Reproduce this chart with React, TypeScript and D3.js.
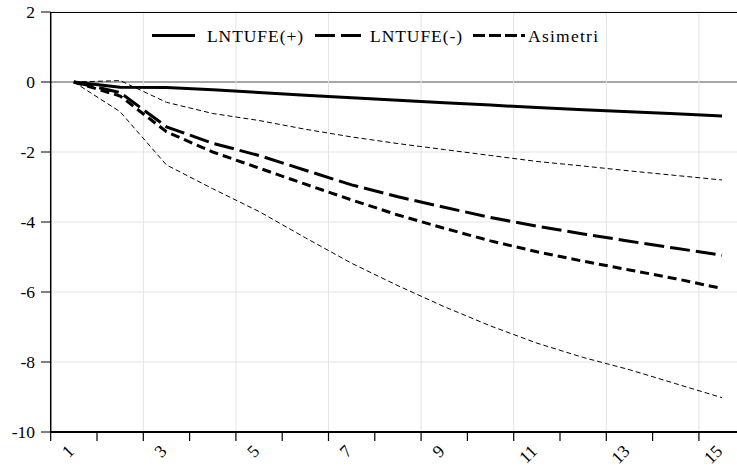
import React from "react";
import * as d3 from "d3";

const periods = [1, 2, 3, 4, 5, 6, 7, 8, 9, 10, 11, 12, 13, 14, 15];
const lnPlus = [0, -0.15, -0.16, -0.22, -0.3, -0.38, -0.45, -0.52, -0.59, -0.66, -0.73, -0.79, -0.85, -0.91, -0.97];
const lnMinus = [0, -0.3, -1.28, -1.75, -2.1, -2.52, -2.94, -3.28, -3.58, -3.87, -4.12, -4.34, -4.55, -4.75, -4.95];
const asimetri = [0, -0.4, -1.42, -2.0, -2.46, -2.92, -3.37, -3.8, -4.18, -4.54, -4.85, -5.12, -5.37, -5.62, -5.9];
const upperBand = [0, 0.04, -0.58, -0.9, -1.1, -1.35, -1.57, -1.76, -1.93, -2.1, -2.27, -2.4, -2.54, -2.67, -2.8];
const lowerBand = [0, -0.85, -2.37, -3.05, -3.7, -4.45, -5.18, -5.82, -6.42, -6.97, -7.46, -7.87, -8.22, -8.62, -9.02];
const yTicks = [2, 0, -2, -4, -6, -8, -10];
const xLabels = [1, 3, 5, 7, 9, 11, 13, 15];
const legendItems = ["LNTUFE(+)", "LNTUFE(-)", "Asimetri"];

const textStyle = { fontFamily: "Liberation Serif", fontSize: "17.5px" };

export default function App() {
  const left = 50.7;
  const step = 46.3;
  const x = d3.scaleLinear().domain([0.5, 15.5]).range([left, left + 15 * step]);
  const y = d3.scaleLinear().domain([-10, 2]).range([432, 12]);
  const line = d3
    .line<number>()
    .x((_, i) => x(periods[i]))
    .y((d) => y(d));

  const edges = d3.range(0.5, 16, 1);
  const gridEdges = d3.range(2.5, 15, 2);

  const series = [
    { data: upperBand, w: 1, dash: "5,3" },
    { data: lowerBand, w: 1, dash: "5,3" },
    { data: lnPlus, w: 3, dash: "none" },
    { data: lnMinus, w: 3, dash: "20,6" },
    { data: asimetri, w: 3, dash: "9,5" },
  ];

  const legend = [
    { label: legendItems[0], x1: 152, x2: 195, tx: 207, tw: 96, dash: "none" },
    { label: legendItems[1], x1: 315, x2: 362, tx: 370, tw: 92, dash: "20,6" },
    { label: legendItems[2], x1: 473, x2: 525, tx: 528, tw: 70, dash: "12,4" },
  ];

  return (
    <svg
      width={737}
      height={472}
      style={{ position: "absolute", left: 0, top: 0, background: "#fff" }}
    >
      <rect x={0} y={0} width={737} height={472} fill="#fff" />
      {yTicks.map((t) => (
        <line
          key={"h" + t}
          x1={left}
          x2={760}
          y1={y(t)}
          y2={y(t)}
          stroke={t === 0 ? "#a6a6a6" : "#e3e3e3"}
          strokeWidth={t === 0 ? 2 : 1}
        />
      ))}
      {gridEdges.map((e) => (
        <line key={"v" + e} x1={x(e)} x2={x(e)} y1={y(2)} y2={y(-10)} stroke="#e3e3e3" strokeWidth={1} />
      ))}
      {series.map((s, i) => (
        <path
          key={"s" + i}
          d={line(s.data) || ""}
          fill="none"
          stroke="#000"
          strokeWidth={s.w}
          strokeDasharray={s.dash}
        />
      ))}
      <line x1={left} x2={760} y1={12.5} y2={12.5} stroke="#000" strokeWidth={1} />
      <line x1={left} x2={left} y1={12} y2={433} stroke="#000" strokeWidth={1.5} />
      <line x1={left} x2={760} y1={432} y2={432} stroke="#000" strokeWidth={2} />
      {yTicks.map((t) => (
        <g key={"yt" + t}>
          <line x1={41} x2={left} y1={y(t)} y2={y(t)} stroke="#000" strokeWidth={1} />
          <text x={35} y={y(t)} dy="0.35em" textAnchor="end" style={textStyle} fill="#000">
            {t}
          </text>
        </g>
      ))}
      {edges.map((e) => (
        <line key={"xt" + e} x1={x(e)} x2={x(e)} y1={432} y2={441} stroke="#000" strokeWidth={1.2} />
      ))}
      {xLabels.map((v) => (
        <text
          key={"xl" + v}
          transform={`translate(${x(v) - 3},${448}) rotate(-45)`}
          textAnchor="end"
          dy="0.35em"
          style={textStyle}
          fill="#000"
        >
          {v}
        </text>
      ))}
      {legend.map((l) => (
        <g key={l.label}>
          <line x1={l.x1} x2={l.x2} y1={35.5} y2={35.5} stroke="#000" strokeWidth={3} strokeDasharray={l.dash} />
          <text x={l.tx} y={35.5} dy="0.35em" style={textStyle} fill="#000" textLength={l.tw} lengthAdjust="spacing">
            {l.label}
          </text>
        </g>
      ))}
    </svg>
  );
}
